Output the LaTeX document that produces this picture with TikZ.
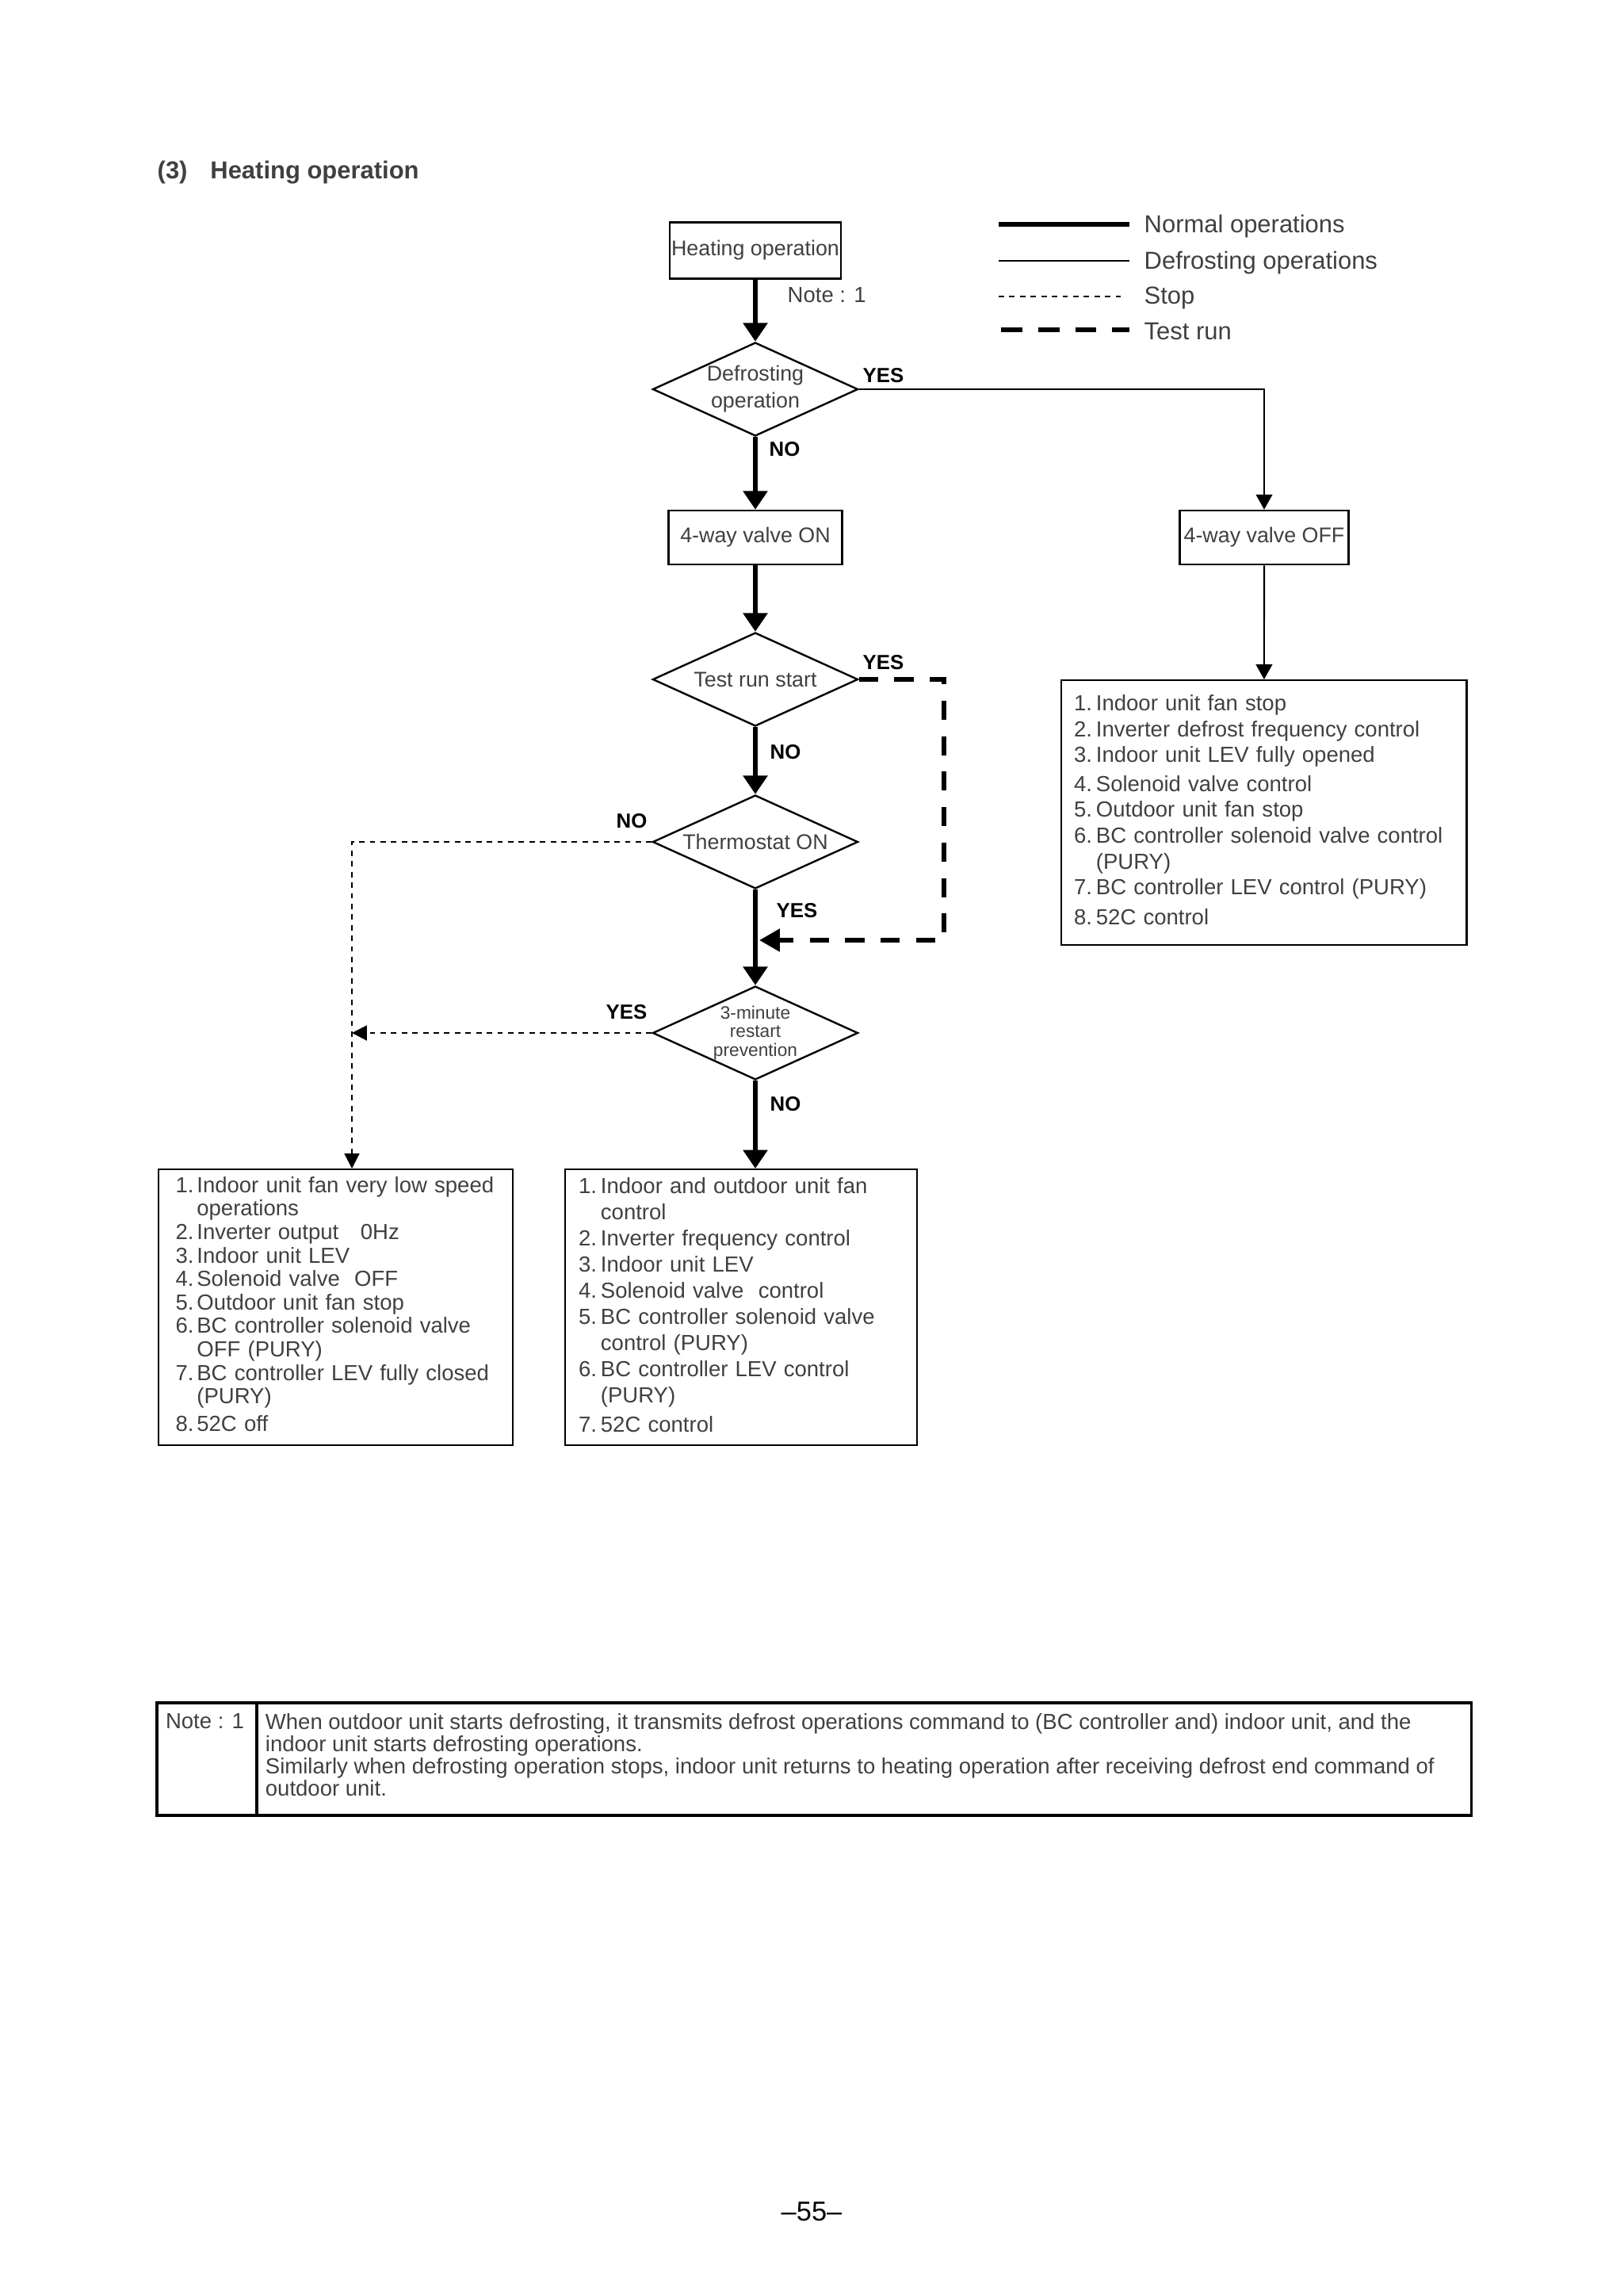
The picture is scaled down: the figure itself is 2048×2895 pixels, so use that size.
\documentclass[tikz,border=0pt]{standalone}
\usepackage{fontspec}
\setmainfont{Liberation Sans}
\usepackage{tikz}
\usetikzlibrary{shapes.geometric,arrows.meta,positioning,calc}
\definecolor{txt}{gray}{0.25}

\begin{document}
\begin{tikzpicture}[x=0.29066pt,y=-0.29066pt,
	box/.style={rectangle,draw,line width=0.7pt,inner sep=0.6pt,text=txt,font=\fontsize{7.8}{9.4}\selectfont},
	dec/.style={diamond,aspect=2.2,draw,line width=0.7pt,inner sep=0pt,minimum width=75.3pt,minimum height=34.3pt,align=center,text=txt,font=\fontsize{7.8}{9.9}\selectfont},
	listbox/.style={rectangle,draw,line width=0.7pt,inner ysep=0pt,anchor=north west,text=txt},
	notecell/.style={rectangle,draw,line width=1pt,outer sep=0pt,inner xsep=3.2pt,inner ysep=4pt,anchor=north west,text=txt,font=\fontsize{8}{8.15}\selectfont},
	lbl/.style={inner sep=0pt,anchor=west,font=\bfseries\fontsize{7.5}{9}\selectfont},
	legtext/.style={inner sep=0pt,anchor=west,text=txt,font=\fontsize{9}{11}\selectfont},
	normalop/.style={line width=2pt,-{Triangle[width=8.7pt,length=6.8pt]}},
	defrostop/.style={line width=0.6pt,-{Triangle[width=6pt,length=5.5pt]}},
	stopop/.style={line width=0.6pt,dash pattern=on 2pt off 1.9pt,-{Triangle[width=5.5pt,length=5.5pt]}},
	testop/.style={line width=1.8pt,dash pattern=on 7pt off 6pt,-{Triangle[width=8pt,length=7.5pt]}}
	]
	\fill[white] (0,0) rectangle (2048,2895);
	\useasboundingbox (0,0) rectangle (2048,2895);

	% title and legend
	\node[anchor=west,inner sep=0pt,text=txt,font=\bfseries\fontsize{9}{11}\selectfont] (title) at (198,218) {(3)\hspace{8.4pt}Heating operation};
	\node[legtext] (lnormal) at (1443,285) {Normal operations};
	\node[legtext] (ldefrost) at (1443,331) {Defrosting operations};
	\node[legtext] (lstop) at (1443,376) {Stop};
	\node[legtext] (ltest) at (1443,418) {Test run};
	\draw[line width=2pt] ($(lnormal.west)+(-183,-2)$) -- ($(lnormal.west)+(-18,-2)$);
	\draw[line width=0.6pt] ($(ldefrost.west)+(-183,-2)$) -- ($(ldefrost.west)+(-18,-2)$);
	\draw[line width=0.6pt,dash pattern=on 2pt off 1.9pt] ($(lstop.west)+(-183,-2)$) -- ($(lstop.west)+(-25,-2)$);
	\draw[line width=1.8pt,dash pattern=on 7.8pt off 5.8pt] ($(ltest.west)+(-180,-2)$) -- ($(ltest.west)+(-18,-2)$);

	% main column
	\node[box,minimum width=62.8pt,minimum height=20.6pt] (heat) at (953,316) {Heating operation};
	\node[anchor=west,inner sep=0pt,text=txt,font=\fontsize{8}{9}\selectfont] (note1) at (993,372) {Note : 1};
	\node[dec] (defrost) at (953,491) {Defrosting\\operation};
	\node[box,minimum width=63.7pt,minimum height=19.8pt] (onvalve) at (953,678) {\raisebox{-1.5pt}{4-way valve ON}};
	\node[dec] (testrun) at (953,857) {Test run start};
	\node[dec] (thermo) at (953,1062) {Thermostat ON};
	\node[dec,font=\fontsize{6.6}{6.9}\selectfont] (restart) at (953,1303) {3-minute\\restart\\prevention};

	% defrost column
	\node[box,minimum width=61.9pt,minimum height=19.8pt] (offvalve) at (1595,678) {4-way valve OFF};
	\node[listbox,inner xsep=4.6pt,text width=139.4pt,minimum height=97.1pt,font=\fontsize{8}{9.5}\selectfont] (offlist) at (1338,857) {%
		\begin{tabular}{@{}p{8.1pt}@{}l@{}}
		1. & Indoor unit fan stop\\
		2. & Inverter defrost frequency control\\
		3. & Indoor unit LEV fully opened\\[1pt]
		4. & Solenoid valve control\\
		5. & Outdoor unit fan stop\\
		6. & BC controller solenoid valve control\\
		   & (PURY)\\
		7. & BC controller LEV control (PURY)\\[1.6pt]
		8. & 52C control
		\end{tabular}};

	% result boxes
	\node[listbox,inner xsep=6.2pt,text width=117.4pt,minimum height=101.1pt,font=\fontsize{8}{8.6}\selectfont] (leftlist) at (199,1474) {%
		\begin{tabular}{@{}p{7.8pt}@{}l@{}}
		1. & Indoor unit fan very low speed\\
		   & operations\\
		2. & Inverter output\ \ \ 0Hz\\
		3. & Indoor unit LEV\\
		4. & Solenoid valve\ \ OFF\\
		5. & Outdoor unit fan stop\\
		6. & BC controller solenoid valve\\
		   & OFF (PURY)\\
		7. & BC controller LEV fully closed\\
		   & (PURY)\\[1.6pt]
		8. & 52C off
		\end{tabular}};
	\node[listbox,inner xsep=4.9pt,text width=119.2pt,minimum height=101.1pt,font=\fontsize{8}{9.6}\selectfont] (midlist) at (712,1474) {%
		\begin{tabular}{@{}p{8.1pt}@{}l@{}}
		1. & Indoor and outdoor unit fan\\
		   & control\\
		2. & Inverter frequency control\\
		3. & Indoor unit LEV\\
		4. & Solenoid valve\ \ control\\
		5. & BC controller solenoid valve\\
		   & control (PURY)\\
		6. & BC controller LEV control\\
		   & (PURY)\\[1.1pt]
		7. & 52C control
		\end{tabular}};

	% labels
	\node[lbl] (yesdef) at (1088,474) {YES};
	\node[lbl] (nodef) at (970,567) {NO};
	\node[lbl] (yestest) at (1088,836) {YES};
	\node[lbl] (notest) at (971,949) {NO};
	\node[lbl] (nothermo) at (777,1036) {NO};
	\node[lbl] (yesthermo) at (979,1149) {YES};
	\node[lbl] (yesrestart) at (764,1277) {YES};
	\node[lbl] (norestart) at (971,1393) {NO};

	% connectors
	\coordinate (tturn) at (1191,857);
	\coordinate (tmerge) at (958,1186);
	\coordinate (scorner) at (444,1062);

	\path[normalop] (heat) edge (defrost)
		(defrost) edge (onvalve)
		(onvalve) edge (testrun)
		(testrun) edge (thermo)
		(thermo) edge (restart)
		(restart.south) edge (restart.south |- midlist.north);

	\draw[defrostop] (defrost.east) -| (offvalve.north);
	\path[defrostop] (offvalve) edge (offlist);

	\draw[testop] (testrun.east) -- (tturn) |- (tmerge);

	\draw[stopop] (thermo.west) -- (scorner) -- (scorner |- leftlist.north);
	\draw[stopop] (restart.west) -- (scorner |- restart.west);

	% note
	\node[notecell] (notehead) at (198,2148) {\parbox[c][33.3pt][t]{30.2pt}{Note : 1}};
	\node[notecell,right=0pt of notehead] (notebody) {\parbox[c][33.3pt][t]{439pt}{\raggedright
		When outdoor unit starts defrosting, it transmits defrost operations command to (BC controller and) indoor unit, and the\\
		indoor unit starts defrosting operations.\\
		Similarly when defrosting operation stops, indoor unit returns to heating operation after receiving defrost end command of\\
		outdoor unit.}};

	\node[inner sep=0pt,font=\fontsize{10}{12}\selectfont] (pagenum) at (1024,2790) {\textendash 55\textendash};
\end{tikzpicture}
\end{document}
